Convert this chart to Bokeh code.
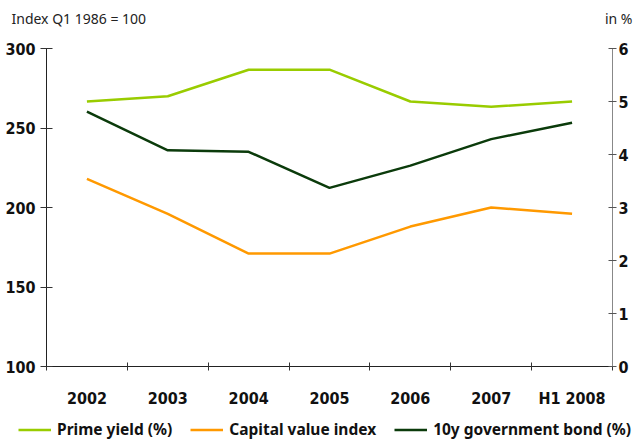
from bokeh.plotting import figure
from bokeh.models import (Range1d, LinearAxis, FixedTicker, Legend, LegendItem, Label)
from bokeh.embed import file_html
from bokeh.resources import INLINE

categories = ["2002", "2003", "2004", "2005", "2006", "2007", "H1 2008"]
prime_yield = [5.0, 5.1, 5.6, 5.6, 5.0, 4.9, 5.0]
capital_value_index = [218, 196, 171, 171, 188, 200, 196]
gov_bond_10y = [4.81, 4.08, 4.05, 3.37, 3.79, 4.29, 4.60]
left_ticks = [100, 150, 200, 250, 300]
right_ticks = [0, 1, 2, 3, 4, 5, 6]
series_names = ["Prime yield (%)", "Capital value index", "10y government bond (%)"]
series_colors = ["#99cc00", "#ff9900", "#0b3b0b"]

n = len(categories)
xs = list(range(n))

TICK_FONT = "DejaVu Sans Condensed"
TEXT_FONT = "Noto Sans"

# page layout (pixels): the frame covers the whole canvas, axes are pinned inside it
W, H = 634, 441
AX_L, AX_R, AX_T, AX_B = 46, 612, 48, 366
L_MIN, L_MAX = left_ticks[0], left_ticks[-1]
R_MIN, R_MAX = right_ticks[0], right_ticks[-1]
x_lo, x_hi = -0.5, n - 0.5
px_x = (AX_R - AX_L) / (x_hi - x_lo)
px_l = (AX_B - AX_T) / (L_MAX - L_MIN)
px_r = (AX_B - AX_T) / (R_MAX - R_MIN)

p = figure(width=W, height=H, output_backend="svg", toolbar_location=None,
           x_range=Range1d(x_lo - AX_L / px_x, x_hi + (W - AX_R) / px_x),
           y_range=Range1d(L_MIN - (H - AX_B) / px_l, L_MAX + AX_T / px_l),
           min_border=0, x_axis_type=None, y_axis_type=None)
p.extra_y_ranges = {"pct": Range1d(R_MIN - (H - AX_B) / px_r, R_MAX + AX_T / px_r)}
p.outline_line_color = None
p.xgrid.visible = False
p.ygrid.visible = False

# x axis: labels at category centres, ticks between categories
xaxis = LinearAxis(ticker=FixedTicker(ticks=xs, minor_ticks=[i - 0.5 for i in range(n + 1)]),
                   major_label_overrides={i: c for i, c in enumerate(categories)},
                   fixed_location=L_MIN, bounds=(x_lo, x_hi))
xaxis.major_tick_line_color = None
xaxis.major_tick_in = 0
xaxis.major_tick_out = 0
xaxis.minor_tick_in = 4
xaxis.minor_tick_out = 4
xaxis.minor_tick_line_color = "#333333"
xaxis.axis_line_color = "#222222"
xaxis.major_label_text_font = TICK_FONT
xaxis.major_label_text_font_style = "bold"
xaxis.major_label_text_font_size = "16px"
xaxis.major_label_text_color = "#111111"
xaxis.major_label_standoff = 18
p.add_layout(xaxis, "below")

yaxis = LinearAxis(ticker=FixedTicker(ticks=left_ticks), fixed_location=x_lo, bounds=(L_MIN, L_MAX))
yaxis.major_tick_in = 6
yaxis.major_tick_out = 6
yaxis.minor_tick_line_color = None
yaxis.axis_line_color = "#222222"
yaxis.major_tick_line_color = "#333333"
yaxis.major_label_text_font = TICK_FONT
yaxis.major_label_text_font_style = "bold"
yaxis.major_label_text_font_size = "16px"
yaxis.major_label_text_color = "#111111"
yaxis.major_label_standoff = 5
p.add_layout(yaxis, "left")

raxis = LinearAxis(y_range_name="pct", ticker=FixedTicker(ticks=right_ticks),
                   fixed_location=x_hi, bounds=(R_MIN, R_MAX))
raxis.major_tick_in = 4
raxis.major_tick_out = 4
raxis.minor_tick_line_color = None
raxis.axis_line_color = "#888888"
raxis.major_tick_line_color = "#555555"
raxis.major_label_text_font = TICK_FONT
raxis.major_label_text_font_style = "bold"
raxis.major_label_text_font_size = "16px"
raxis.major_label_text_color = "#111111"
raxis.major_label_standoff = 2
p.add_layout(raxis, "right")

r1 = p.line(xs, prime_yield, y_range_name="pct", line_color=series_colors[0], line_width=2.5)
r2 = p.line(xs, capital_value_index, line_color=series_colors[1], line_width=2.5)
r3 = p.line(xs, gov_bond_10y, y_range_name="pct", line_color=series_colors[2], line_width=2.5)

legend = Legend(items=[LegendItem(label=name, renderers=[r])
                       for name, r in zip(series_names, [r1, r2, r3])],
                orientation="horizontal", location=(18, 1))
legend.glyph_width = 33
legend.glyph_height = 19
legend.label_standoff = 6
legend.spacing = 18
legend.padding = 0
legend.margin = 0
legend.border_line_color = None
legend.background_fill_alpha = 0
legend.label_text_font = TEXT_FONT
legend.label_text_font_style = "bold"
legend.label_text_font_size = "15.5px"
legend.label_text_color = "#111111"
p.add_layout(legend, "center")

p.add_layout(Label(x=11, y=H - 18, x_units="screen", y_units="screen", text="Index Q1 1986 = 100",
                   text_baseline="middle", text_font=TEXT_FONT, text_font_size="14px",
                   text_color="#222222"))
p.add_layout(Label(x=632, y=H - 18, x_units="screen", y_units="screen", text="in %",
                   text_baseline="middle", text_align="right", text_font=TEXT_FONT,
                   text_font_size="14px", text_color="#222222"))

open("out.html", "w").write(file_html(p, INLINE))
